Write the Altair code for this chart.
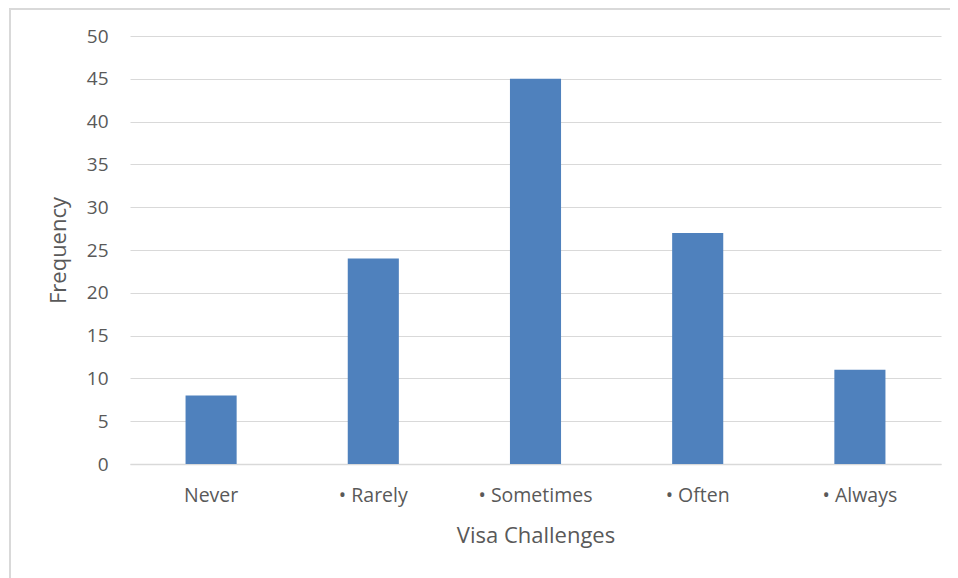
import altair as alt
import pandas as pd

categories = ["Never", "• Rarely", "• Sometimes", "• Often", "• Always"]
frequency = [8, 24, 45, 27, 11]

df = pd.DataFrame({"category": categories, "frequency": frequency})

FONT = "Open Sans"

bars = alt.Chart(df).mark_bar(color="#4F81BD").encode(
    x=alt.X("category:N", sort=categories,
            scale=alt.Scale(paddingInner=0.685, paddingOuter=0.3425),
            axis=alt.Axis(title="Visa Challenges", labelAngle=0, ticks=False,
                          domainColor="#d9d9d9", domainWidth=1.5,
                          labelPadding=22, titlePadding=21,
                          labelFontSize=19.5, titleFontSize=22,
                          labelColor="#595959", titleColor="#595959",
                          labelFont=FONT, titleFont=FONT, titleFontWeight="normal")),
    y=alt.Y("frequency:Q", scale=alt.Scale(domain=[0, 50]),
            axis=alt.Axis(title="Frequency", values=list(range(0, 51, 5)), ticks=False,
                          domain=False, gridColor="#d9d9d9", gridWidth=1.2,
                          labelPadding=22, titlePadding=16,
                          labelFontSize=19, titleFontSize=22,
                          labelColor="#595959", titleColor="#595959",
                          labelFont=FONT, titleFont=FONT, titleFontWeight="normal")),
)

border = alt.Chart(df).mark_rect(fill=None, stroke="#d9d9d9", strokeWidth=1.5).encode(
    x=alt.value(-120), x2=alt.value(826), y=alt.value(-27), y2=alt.value(600)
)

chart = alt.layer(border, bars).properties(
    width=811, height=428,
    autosize=alt.AutoSizeParams(type="none"),
    padding={"left": 122, "top": 28, "right": 9, "bottom": 114},
).configure_view(stroke=None)

chart.save("out.html", embed_options={"renderer": "svg", "actions": False})
